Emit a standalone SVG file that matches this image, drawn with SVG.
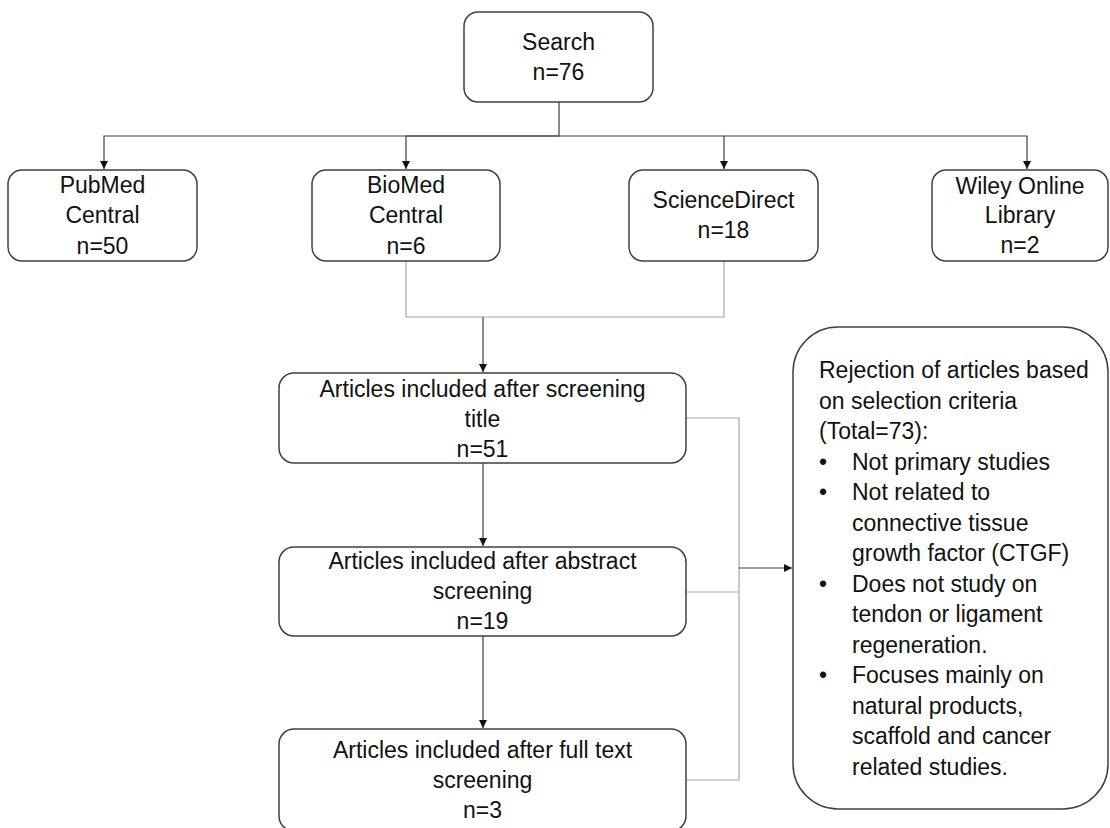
<svg xmlns="http://www.w3.org/2000/svg" width="1110" height="828" viewBox="0 0 1110 828">
<style>
.box{fill:#fff;stroke:#404040;stroke-width:1.5}
.t{font-family:"Liberation Sans",Arial,sans-serif;font-size:23px;fill:#111;text-anchor:middle}
.tl{font-family:"Liberation Sans",Arial,sans-serif;font-size:23px;fill:#111}
.c{fill:none;stroke:#404040;stroke-width:1.2}
.g{fill:none;stroke:#a6a6a6;stroke-width:1.2}
</style>
<defs>
<marker id="ah" markerWidth="10" markerHeight="10" refX="9" refY="5" orient="auto" markerUnits="userSpaceOnUse">
<path d="M1,1 L9,5 L1,9 Z" fill="#111"/>
</marker>
</defs>
<rect width="1110" height="828" fill="#fff"/>
<g id="connectors">
<path class="c" d="M559,102 V136 H104 V169" marker-end="url(#ah)"/>
<path class="c" d="M559,136 H406 V169" marker-end="url(#ah)"/>
<path class="c" d="M559,136 H724 V169" marker-end="url(#ah)"/>
<path class="c" d="M724,136 H1027 V169" marker-end="url(#ah)"/>
<path class="g" d="M406,261 V317 H724 V261"/>
<path class="c" d="M483,317 V372" marker-end="url(#ah)"/>
<path class="c" d="M483,463 V546" marker-end="url(#ah)"/>
<path class="c" d="M483,636 V728" marker-end="url(#ah)"/>
<path class="g" d="M686,418 H739 V780 H686"/>
<path class="g" d="M686,592 H739"/>
<path class="c" d="M739,568 H792" marker-end="url(#ah)"/>
</g>
<g id="search">
<rect class="box" x="464" y="12" width="189" height="90" rx="14"/>
<text class="t" x="558.5" y="50">Search</text>
<text class="t" x="558.5" y="80">n=76</text>
</g>
<g id="pubmed">
<rect class="box" x="8" y="170" width="189" height="91" rx="14"/>
<text class="t" x="102.5" y="193">PubMed</text>
<text class="t" x="102.5" y="223">Central</text>
<text class="t" x="102.5" y="254">n=50</text>
</g>
<g id="biomed">
<rect class="box" x="312" y="170" width="188" height="91" rx="14"/>
<text class="t" x="406" y="193">BioMed</text>
<text class="t" x="406" y="223">Central</text>
<text class="t" x="406" y="254">n=6</text>
</g>
<g id="sciencedirect">
<rect class="box" x="629" y="170" width="189" height="91" rx="14"/>
<text class="t" x="723.5" y="208">ScienceDirect</text>
<text class="t" x="723.5" y="238">n=18</text>
</g>
<g id="wiley">
<rect class="box" x="932" y="170" width="176" height="91" rx="14"/>
<text class="t" x="1020" y="194">Wiley Online</text>
<text class="t" x="1020" y="223">Library</text>
<text class="t" x="1020" y="253">n=2</text>
</g>
<g id="title-screening">
<rect class="box" x="279" y="373" width="407" height="90" rx="15"/>
<text class="t" x="482.5" y="397">Articles included after screening</text>
<text class="t" x="482.5" y="427">title</text>
<text class="t" x="482.5" y="457">n=51</text>
</g>
<g id="abstract-screening">
<rect class="box" x="279" y="547" width="407" height="89" rx="15"/>
<text class="t" x="482.5" y="569">Articles included after abstract</text>
<text class="t" x="482.5" y="599">screening</text>
<text class="t" x="482.5" y="629">n=19</text>
</g>
<g id="fulltext-screening">
<rect class="box" x="279" y="729" width="407" height="102" rx="15"/>
<text class="t" x="482.5" y="758">Articles included after full text</text>
<text class="t" x="482.5" y="788">screening</text>
<text class="t" x="482.5" y="818">n=3</text>
</g>
<g id="rejection">
<rect class="box" x="793" y="327" width="315" height="482" rx="45"/>
<text class="tl" x="819" y="378">Rejection of articles based</text>
<text class="tl" x="819" y="408.5">on selection criteria</text>
<text class="tl" x="819" y="439">(Total=73):</text>
<text class="tl" x="819" y="469.5">•</text><text class="tl" x="852" y="469.5">Not primary studies</text>
<text class="tl" x="819" y="500">•</text><text class="tl" x="852" y="500">Not related to</text>
<text class="tl" x="852" y="530.5">connective tissue</text>
<text class="tl" x="852" y="561">growth factor (CTGF)</text>
<text class="tl" x="819" y="591.5">•</text><text class="tl" x="852" y="591.5">Does not study on</text>
<text class="tl" x="852" y="622">tendon or ligament</text>
<text class="tl" x="852" y="652.5">regeneration.</text>
<text class="tl" x="819" y="683">•</text><text class="tl" x="852" y="683">Focuses mainly on</text>
<text class="tl" x="852" y="713.5">natural products,</text>
<text class="tl" x="852" y="744">scaffold and cancer</text>
<text class="tl" x="852" y="774.5">related studies.</text>
</g>
</svg>
